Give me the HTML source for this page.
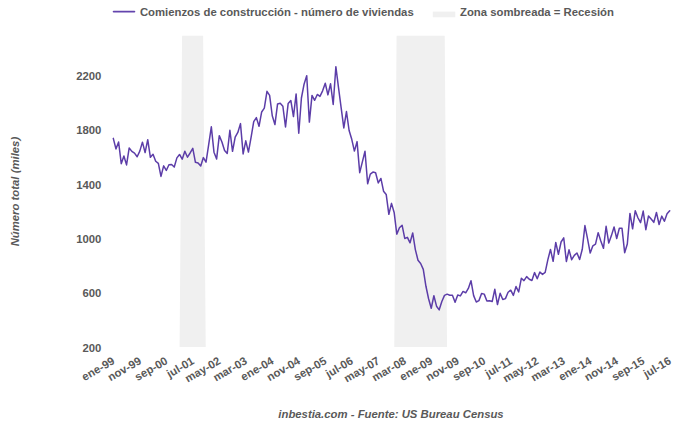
<!DOCTYPE html>
<html><head><meta charset="utf-8"><style>
html,body{margin:0;padding:0;background:#fff;}
svg{display:block;font-family:"Liberation Sans",sans-serif;font-size:11.33px;font-weight:bold;fill:#595959;}
</style></head><body>
<svg width="680" height="427" viewBox="0 0 680 427">
<rect width="680" height="427" fill="#fff"/>
<polygon points="179.6,347.1 182.1,35.8 203.1,35.8 205.7,347.1" fill="#f0f0f0"/>
<polygon points="394.3,347.1 396.6,35.8 444.7,35.8 447.0,347.1" fill="#f0f0f0"/>
<polyline fill="none" stroke="#5c3da8" stroke-width="1.5" stroke-linejoin="round" stroke-linecap="round" points="113.30,138.37 115.95,148.93 118.60,142.02 121.25,163.69 123.90,155.97 126.55,164.91 129.20,147.98 131.85,151.37 134.50,153.13 137.15,156.79 139.80,151.10 142.44,142.16 145.09,152.59 147.74,139.72 150.39,157.33 153.04,154.35 155.69,161.26 158.34,163.42 160.99,176.43 163.64,165.86 166.29,170.47 168.94,164.78 171.59,164.51 174.24,167.08 176.89,157.87 179.54,154.48 182.19,159.22 184.84,151.23 187.49,157.19 190.14,152.99 192.79,148.39 195.44,162.34 198.08,163.02 200.73,166.00 203.38,157.60 206.03,162.20 208.68,144.60 211.33,126.85 213.98,152.18 216.63,158.95 219.28,135.66 221.93,142.02 224.58,150.42 227.23,153.40 229.88,130.24 232.53,151.37 235.18,137.15 237.83,132.41 240.48,123.60 243.13,153.94 245.78,140.80 248.43,152.05 251.08,137.42 253.72,121.70 256.37,117.64 259.02,126.31 261.67,111.95 264.32,108.16 266.97,91.36 269.62,95.43 272.27,115.75 274.92,124.55 277.57,103.96 280.22,103.28 282.87,106.26 285.52,126.99 288.17,103.42 290.82,100.44 293.47,116.56 296.12,93.94 298.77,133.22 301.42,98.00 304.07,84.19 306.72,75.65 309.36,122.11 312.01,95.43 314.66,100.30 317.31,94.48 319.96,96.38 322.61,90.82 325.26,83.24 327.91,94.89 330.56,83.78 333.21,104.50 335.86,66.71 338.51,87.57 341.16,107.89 343.81,127.94 346.46,111.55 349.11,130.51 351.76,139.31 354.41,151.10 357.06,141.62 359.71,172.63 362.36,161.93 365.00,151.23 367.65,183.74 370.30,174.12 372.95,172.09 375.60,172.77 378.25,182.93 380.90,178.46 383.55,191.19 386.20,194.44 388.85,214.35 391.50,203.38 394.15,212.46 396.80,234.13 399.45,227.76 402.10,225.19 404.75,238.46 407.40,237.38 410.05,242.80 412.70,232.91 415.35,249.57 418.00,260.27 420.64,263.52 423.29,269.35 425.94,286.28 428.59,298.74 431.24,308.22 433.89,295.76 436.54,306.19 439.19,309.84 441.84,301.45 444.49,295.35 447.14,294.13 449.79,295.22 452.44,295.35 455.09,302.26 457.74,294.95 460.39,295.89 463.04,291.42 465.69,292.78 468.34,288.44 470.99,280.72 473.64,295.62 476.28,301.99 478.93,300.63 481.58,293.46 484.23,294.13 486.88,301.04 489.53,300.77 492.18,301.58 494.83,289.26 497.48,304.56 500.13,293.32 502.78,299.55 505.43,298.60 508.08,292.24 510.73,290.20 513.38,295.35 516.03,286.55 518.68,291.97 521.33,278.29 523.98,280.59 526.63,276.66 529.28,279.23 531.92,280.45 534.57,272.60 537.22,278.69 539.87,272.05 542.52,274.36 545.17,272.46 547.82,259.86 550.47,249.43 553.12,261.35 555.77,242.39 558.42,254.31 561.07,241.98 563.72,237.79 566.37,261.49 569.02,249.84 571.67,259.73 574.32,255.39 576.97,252.96 579.62,259.46 582.27,249.30 584.92,225.60 587.56,238.87 590.21,253.09 592.86,245.78 595.51,244.15 598.16,232.64 600.81,241.04 603.46,248.35 606.11,226.27 608.76,243.07 611.41,235.62 614.06,226.95 616.71,238.46 619.36,228.30 622.01,228.30 624.66,252.69 627.31,244.02 629.96,213.40 632.61,228.85 635.26,210.70 637.91,217.74 640.56,222.62 643.20,211.10 645.85,229.66 648.50,215.98 651.15,219.09 653.80,222.34 656.45,212.46 659.10,224.51 661.75,216.11 664.40,221.26 667.05,213.81 669.70,210.70"/>
<g><text x="101.4" y="351.70" text-anchor="end">200</text>
<text x="101.4" y="297.34" text-anchor="end">600</text>
<text x="101.4" y="242.98" text-anchor="end">1000</text>
<text x="101.4" y="188.62" text-anchor="end">1400</text>
<text x="101.4" y="134.26" text-anchor="end">1800</text>
<text x="101.4" y="79.90" text-anchor="end">2200</text>
</g>
<g><text x="115.60" y="363.2" text-anchor="end" transform="rotate(-30 115.60 363.2)">ene-99</text>
<text x="142.10" y="363.2" text-anchor="end" transform="rotate(-30 142.10 363.2)">nov-99</text>
<text x="168.59" y="363.2" text-anchor="end" transform="rotate(-30 168.59 363.2)">sep-00</text>
<text x="195.09" y="363.2" text-anchor="end" transform="rotate(-30 195.09 363.2)">jul-01</text>
<text x="221.58" y="363.2" text-anchor="end" transform="rotate(-30 221.58 363.2)">may-02</text>
<text x="248.08" y="363.2" text-anchor="end" transform="rotate(-30 248.08 363.2)">mar-03</text>
<text x="274.57" y="363.2" text-anchor="end" transform="rotate(-30 274.57 363.2)">ene-04</text>
<text x="301.07" y="363.2" text-anchor="end" transform="rotate(-30 301.07 363.2)">nov-04</text>
<text x="327.56" y="363.2" text-anchor="end" transform="rotate(-30 327.56 363.2)">sep-05</text>
<text x="354.06" y="363.2" text-anchor="end" transform="rotate(-30 354.06 363.2)">jul-06</text>
<text x="380.55" y="363.2" text-anchor="end" transform="rotate(-30 380.55 363.2)">may-07</text>
<text x="407.05" y="363.2" text-anchor="end" transform="rotate(-30 407.05 363.2)">mar-08</text>
<text x="433.54" y="363.2" text-anchor="end" transform="rotate(-30 433.54 363.2)">ene-09</text>
<text x="460.04" y="363.2" text-anchor="end" transform="rotate(-30 460.04 363.2)">nov-09</text>
<text x="486.53" y="363.2" text-anchor="end" transform="rotate(-30 486.53 363.2)">sep-10</text>
<text x="513.03" y="363.2" text-anchor="end" transform="rotate(-30 513.03 363.2)">jul-11</text>
<text x="539.52" y="363.2" text-anchor="end" transform="rotate(-30 539.52 363.2)">may-12</text>
<text x="566.02" y="363.2" text-anchor="end" transform="rotate(-30 566.02 363.2)">mar-13</text>
<text x="592.51" y="363.2" text-anchor="end" transform="rotate(-30 592.51 363.2)">ene-14</text>
<text x="619.01" y="363.2" text-anchor="end" transform="rotate(-30 619.01 363.2)">nov-14</text>
<text x="645.50" y="363.2" text-anchor="end" transform="rotate(-30 645.50 363.2)">sep-15</text>
<text x="672.00" y="363.2" text-anchor="end" transform="rotate(-30 672.00 363.2)">jul-16</text>
</g>
<line x1="113.6" y1="11.6" x2="134.4" y2="11.6" stroke="#6344ad" stroke-width="1.8" stroke-linecap="round"/>
<text x="139.9" y="15.8">Comienzos de construcción - número de viviendas</text>
<rect x="432.8" y="11.6" width="22.5" height="5.7" fill="#f0f0f0"/>
<text x="460.0" y="15.8">Zona sombreada = Recesión</text>
<text x="0" y="0" text-anchor="middle" font-style="italic" transform="translate(18.8 191.6) rotate(-90)">Número total (miles)</text>
<text x="391" y="418" text-anchor="middle" font-style="italic">inbestia.com - Fuente: US Bureau Census</text>
</svg></body></html>
